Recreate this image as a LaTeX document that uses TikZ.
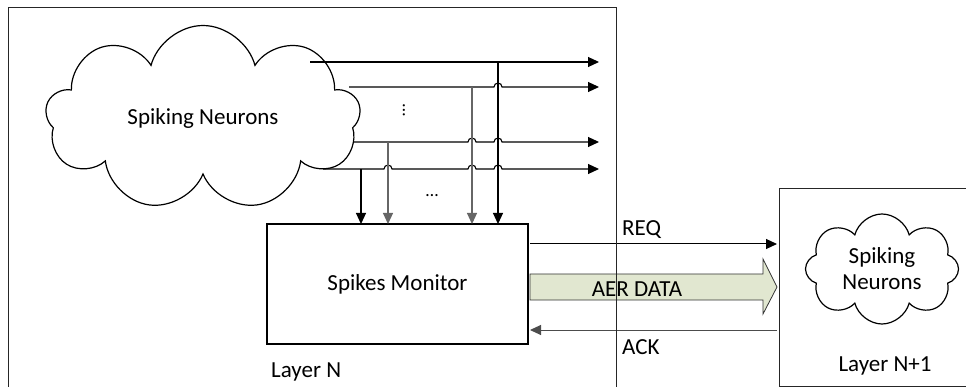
\documentclass[tikz,border=0pt]{standalone}
\usepackage{fontspec}
\setmainfont{Carlito}
\usetikzlibrary{shapes.symbols,shapes.arrows,arrows.meta}
\definecolor{aerfill}{HTML}{E1E7D0}
\tikzset{
  lbl/.style={font=\fontsize{23}{26}\selectfont, inner sep=0pt},
  wire/.style={line width=1.1pt, black},
  gwire/.style={line width=1.1pt, black!60},
  tip/.style={-{Triangle[length=11pt,width=10pt]}},
  border/.style={line width=1pt, black!85},
  cloudy/.style={cloud, draw, line width=1.2pt, cloud ignores aspect, align=center, font=\fontsize{23}{26}\selectfont},
}
\begin{document}
\begin{tikzpicture}[x=1pt,y=-1pt]
\useasboundingbox (0,0) rectangle (966,387);

% Layer N frame
\draw[border] (8,387) -- (8,8) -- (616,8) -- (616,387);
\node[lbl, anchor=west] (layn) at (271,372) {Layer N};

% big cloud
\node[cloudy, cloud puffs=9, minimum width=315, minimum height=185] (c1) at (203,118) {Spiking Neurons};

% spikes monitor
\node[draw, line width=1.1pt, minimum width=261, minimum height=120, lbl] (sm) at (397.5,284) {Spikes Monitor};

% wire start / end coordinates
\coordinate (h1s) at (310,62);  \coordinate (h1e) at (599,62);
\coordinate (h2s) at (349,87);  \coordinate (h2e) at (599,87);
\coordinate (h3s) at (353,142); \coordinate (h3e) at (599,142);
\coordinate (h4s) at (323,169); \coordinate (h4e) at (599,169);

% horizontal wires with hops
\draw[wire,tip] (h1s) -- (h1e);
\draw[wire,tip] (h2s) -- (494,87) arc[start angle=180,end angle=0,radius=4pt] -- (h2e);
\draw[wire,tip] (h3s) -- (468,142) arc[start angle=180,end angle=0,radius=4pt]
  -- (494,142) arc[start angle=180,end angle=0,radius=4pt] -- (h3e);
\draw[wire,tip] (h4s) -- (384,169) arc[start angle=180,end angle=0,radius=4pt]
  -- (468,169) arc[start angle=180,end angle=0,radius=4pt]
  -- (494,169) arc[start angle=180,end angle=0,radius=4pt] -- (h4e);

% vertical wires into the monitor
\draw[wire,tip] (361,169) -- (361,224);
\draw[gwire,tip] (388,142) -- (388,224);
\draw[gwire,tip] (472,87) -- (472,224);
\draw[wire,tip] (498,62) -- (498,224);

% ellipses
\node[font=\fontsize{18}{18}\selectfont, inner sep=0pt, rotate=90] (vd) at (404,110) {…};
\node[font=\fontsize{18}{18}\selectfont, inner sep=0pt] (hd) at (432,196) {…};

% Layer N+1 frame
\draw[border] (966,189) -- (779,189) -- (779,386) -- (966,386);
\node[lbl] (layn1) at (885,366) {Layer N+1};
\node[cloudy, cloud puffs=8, minimum width=153, minimum height=110] (c2) at (882,269) {Spiking\\Neurons};

% REQ
\coordinate (reqs) at (530,244);
\coordinate (reqe) at (777,244);
\draw[line width=1pt,tip] (reqs) -- (reqe);
\node[lbl, anchor=west] (req) at (622,230) {REQ};

% AER DATA block arrow
\draw[line width=0.8pt, black!80, fill=aerfill]
  (530,274) -- (763,274) -- (763,259) -- (777,287) -- (763,314) -- (763,300) -- (530,300) -- cycle;
\node[lbl] (aer) at (637,289) {AER DATA};

% ACK
\coordinate (acks) at (777,330);
\coordinate (acke) at (530,330);
\draw[line width=1pt, black!70, tip] (acks) -- (acke);
\node[lbl, anchor=west] (ack) at (622,347) {ACK};

% Layer N right border drawn on top
\draw[border] (616,240) -- (616,387);
\end{tikzpicture}
\end{document}
